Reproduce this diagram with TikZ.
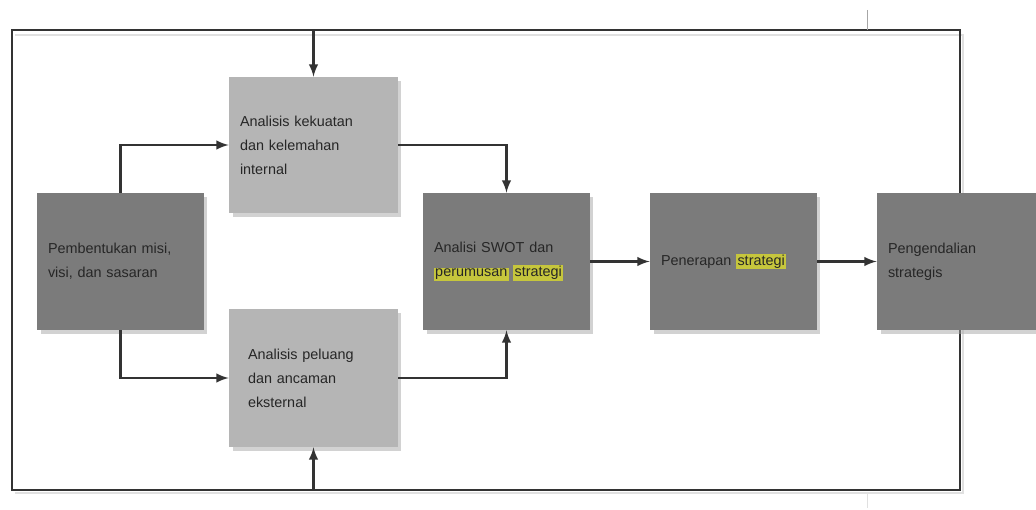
\documentclass[tikz,border=0pt]{standalone}
\usepackage{fontspec}
\setmainfont{Liberation Sans}
\usetikzlibrary{shadows}

\definecolor{boxdark}{HTML}{7B7B7B}
\definecolor{boxlight}{HTML}{B5B5B5}
\definecolor{linegray}{HTML}{333333}
\definecolor{marker}{HTML}{C6C63C}
\newcommand{\stabilo}[1]{{\setlength{\fboxsep}{0.7pt}\colorbox{marker}{#1}}}

\begin{document}
\begin{tikzpicture}[x=0.02cm, y=-0.02cm, >=latex,
    box/.style={rectangle, inner xsep=0.22cm, text width=2.9cm, minimum height=2.74cm,
        align=left, text=black!85, font=\fontsize{8.2}{13.6}\selectfont,
        drop shadow={shadow xshift=0.07cm, shadow yshift=-0.08cm, fill=black!35, opacity=0.5}},
    darkbox/.style={box, fill=boxdark},
    lightbox/.style={box, fill=boxlight},
    frame/.style={draw=linegray, line width=1.4pt},
    flow/.style={->, draw=linegray, line width=1.4pt}]
    \useasboundingbox (0,0) rectangle (1036,510);

    % Outer feedback frame
    \draw[black!12, line width=1.4pt] (15,35) -- (963,35) -- (963,493) -- (15,493);
    \draw[frame] (12,30) rectangle (960,490);
    \draw[black!35, line width=0.4pt] (867,10) -- (867,30);
    \draw[black!12, line width=0.4pt] (867,492) -- (867,508);

    % Boxes
    \node[darkbox] (misi) at (120.5,261.5) {Pembentukan misi,\\visi, dan sasaran};
    \node[lightbox, minimum height=2.72cm, text width=2.94cm] (internal) at (313.5,145)
        {Analisis kekuatan\\dan kelemahan\\internal};
    \node[lightbox, minimum height=2.76cm, inner xsep=0.38cm, text width=2.62cm] (eksternal) at (313.5,378)
        {Analisis peluang\\dan ancaman\\eksternal};
    \node[darkbox] (swot) at (506.5,261.5) {Analisi SWOT dan\\\stabilo{perumusan} \stabilo{strategi}};
    \node[darkbox] (penerapan) at (733.5,261.5) {Penerapan \stabilo{strategi}};
    \node[darkbox, text width=2.74cm] (kendali) at (956.5,261.5) {Pengendalian\\strategis};

    % Frame taps
    \coordinate (atas) at (313.5,30);
    \coordinate (bawah) at (313.5,490);

    % Connectors
    \draw[flow] (atas) -- (internal.north);
    \draw[flow] (bawah) -- (eksternal.south);
    \draw[flow] (misi.north) |- (internal.west);
    \draw[flow] (misi.south) |- (eksternal.west);
    \draw[flow] (internal.east) -| (swot.north);
    \draw[flow] (eksternal.east) -| (swot.south);
    \draw[flow] (swot.east) -- (penerapan.west);
    \draw[flow] (penerapan.east) -- (kendali.west);
\end{tikzpicture}
\end{document}
